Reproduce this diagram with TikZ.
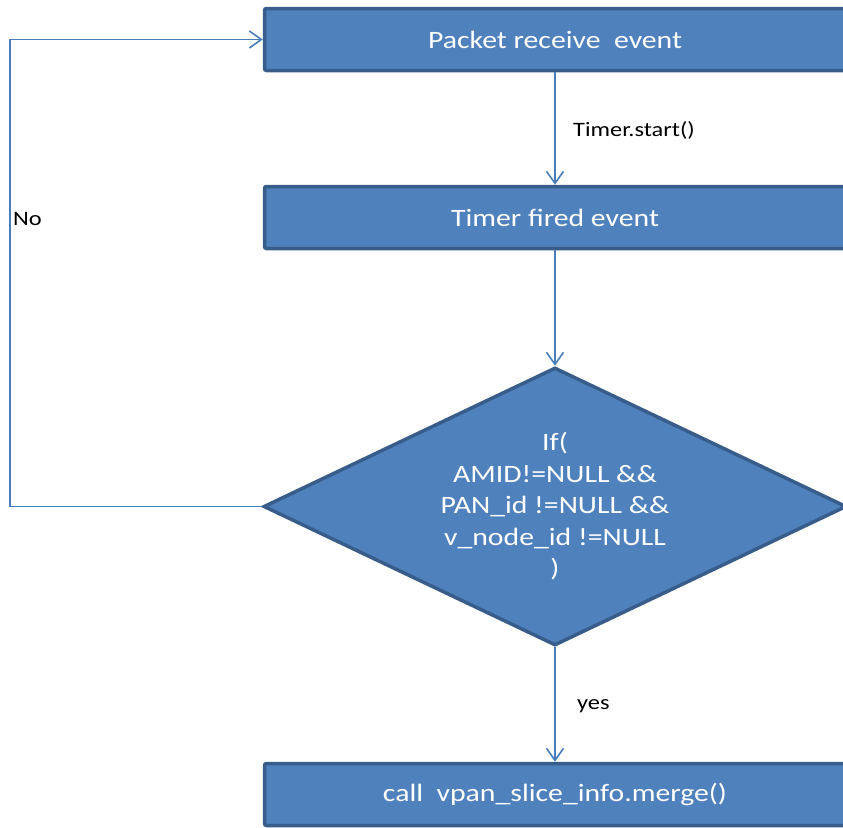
\documentclass[tikz,border=0pt]{standalone}
\usepackage{fontspec}
\setmainfont{Carlito}[FakeStretch=1.19]
\usetikzlibrary{shapes.geometric,arrows.meta}
\definecolor{boxfill}{HTML}{4F81BD}
\definecolor{boxline}{HTML}{385D8A}
\definecolor{linkline}{HTML}{4A7EBB}
\begin{document}
\begin{tikzpicture}[x=1pt,y=-1pt,
  stepbox/.style={draw=boxline, fill=boxfill, line width=3.5pt, rounded corners=2pt,
    minimum width=581pt, minimum height=62pt, inner sep=0pt,
    text=white, font=\fontsize{25}{30}\selectfont},
  decision/.style={diamond, aspect=2.09, draw=boxline, fill=boxfill, line width=3.5pt,
    minimum width=583pt, minimum height=278pt, inner sep=0pt,
    text=white, align=center, font=\fontsize{25}{31.5}\selectfont},
  link/.style={draw=linkline, line width=1.6pt,
    -{Straight Barb[length=12pt,width=17pt,line width=1.6pt]}},
  lbl/.style={anchor=west, inner sep=0pt, text=black, font=\fontsize{20.5}{24}\selectfont}]
\useasboundingbox (0,0) rectangle (843,827);

% process boxes and the decision
\node[stepbox] (recv) at (555,39.5) {Packet receive\ \ event};
\node[stepbox] (fired) at (555,217.5) {Timer fired event};
\node[decision] (check) at (555,506.5)
  {If(\\AMID!=NULL \&\&\\PAN\_id !=NULL \&\&\\v\_node\_id !=NULL\\)};
\node[stepbox] (merge) at (555,794.5) {call\ \ vpan\_slice\_info.merge()};

% loop-back corner points
\coordinate (lowcorner) at (10,506.5);
\coordinate (topcorner) at (10,39.5);

% connectors
\draw[link] (recv) -- (fired);
\draw[link] (fired) -- (check);
\draw[link] (check) -- (merge);
\draw[link] (check.west) -- (lowcorner) -- (topcorner) -- (recv.west);

% connector labels
\node[lbl] (startlbl) at (573,130) {Timer.start()};
\node[lbl] (yeslbl) at (577,706) {yes};
\node[lbl] (nolbl) at (13,219) {No};
\end{tikzpicture}
\end{document}
